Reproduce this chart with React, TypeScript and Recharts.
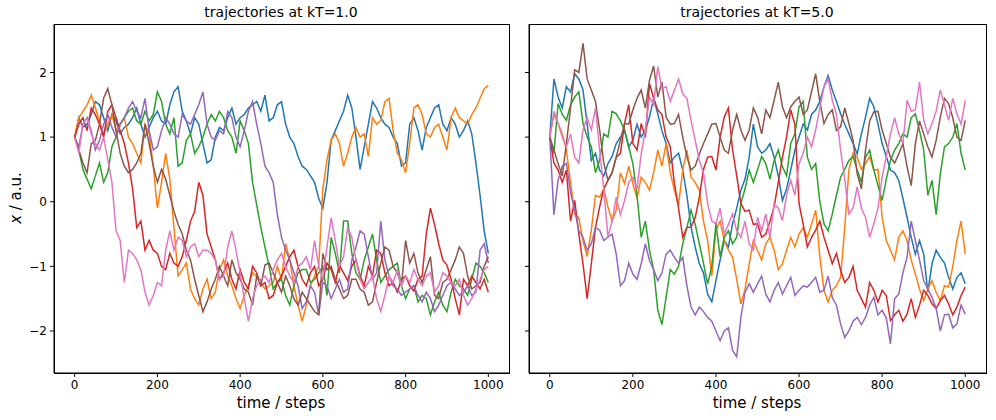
import { Line, LineChart, XAxis, YAxis } from "recharts";

// positions read every 10 steps, steps 0..1000

// trajectories at kT=1.0
const leftBlue = [1.0, 1.3, 1.15, 1.2, 1.35, 1.55, 1.5, 1.3, 1.1, 1.35, 1.25, 1.05, 1.15, 1.2, 1.3, 1.45, 1.2, 1.0, 1.15, 1.3, 1.4, 1.25, 1.2, 1.5, 1.7, 1.78, 1.4, 1.25, 1.05, 1.3, 1.2, 0.9, 0.6, 0.65, 1.0, 1.15, 1.1, 1.3, 1.45, 1.2, 1.3, 1.35, 1.45, 1.5, 1.55, 1.4, 1.65, 1.25, 1.3, 1.5, 1.55, 1.2, 1.0, 0.9, 0.7, 0.55, 0.5, 0.4, 0.3, 0.05, -0.1, 0.3, 0.95, 1.1, 1.25, 1.4, 1.65, 1.45, 1.0, 0.5, 0.85, 1.2, 1.55, 1.45, 1.3, 1.2, 1.15, 1.0, 0.9, 0.55, 0.6, 1.2, 1.3, 1.1, 0.8, 1.15, 1.3, 1.45, 1.5, 1.2, 1.1, 1.3, 1.2, 1.0, 1.1, 1.25, 1.05, 0.6, 0.1, -0.45, -0.8];
const leftOrange = [1.0, 1.3, 1.4, 1.5, 1.65, 1.45, 1.25, 1.05, 1.2, 1.35, 1.1, 1.2, 1.3, 1.0, 0.9, 0.75, 0.6, 1.2, 1.05, 0.55, -0.1, 0.3, 0.75, 0.35, -0.4, -1.15, -1.05, -0.95, -1.35, -1.5, -1.6, -1.35, -1.2, -1.5, -1.4, -1.05, -0.9, -1.15, -1.3, -1.5, -1.65, -1.45, -1.3, -1.1, -1.15, -1.25, -1.35, -1.3, -1.25, -1.0, -1.2, -0.65, -0.9, -1.3, -1.6, -1.85, -1.6, -1.3, -1.15, -1.0, 0.2, 0.65, 0.95, 1.05, 0.9, 0.55, 0.75, 1.0, 1.15, 1.0, 1.05, 0.7, 1.3, 1.2, 1.25, 1.55, 1.6, 1.1, 0.75, 0.65, 0.45, 0.9, 1.45, 1.5, 1.35, 1.05, 1.0, 1.15, 1.2, 1.0, 0.8, 1.3, 1.45, 1.3, 1.25, 1.2, 1.35, 1.45, 1.6, 1.75, 1.8];
const leftGreen = [1.0, 0.8, 0.5, 0.35, 0.2, 0.4, 0.6, 0.3, 0.45, 0.85, 1.0, 1.2, 1.3, 1.4, 1.45, 1.25, 1.2, 1.4, 1.25, 1.35, 1.7, 1.55, 1.2, 1.05, 1.3, 0.55, 0.6, 0.95, 1.05, 0.75, 0.85, 1.0, 1.2, 1.35, 1.25, 1.4, 1.3, 1.1, 1.0, 0.75, 1.25, 1.1, 0.9, 0.3, -0.05, -0.4, -0.7, -1.0, -1.35, -1.25, -1.2, -1.45, -1.6, -1.3, -1.1, -1.05, -1.05, -1.25, -1.2, -1.1, -1.0, -1.45, -0.55, -0.8, -1.1, -0.3, -0.3, -0.8, -1.1, -1.2, -0.9, -0.7, -0.5, -0.9, -1.25, -1.15, -1.05, -1.0, -0.95, -1.3, -1.5, -1.35, -1.3, -1.55, -1.45, -1.5, -1.75, -1.55, -1.4, -1.6, -1.7, -1.4, -1.2, -1.3, -1.35, -1.45, -1.2, -0.95, -1.0, -1.1, -1.25];
const leftRed = [1.0, 1.2, 1.3, 1.1, 1.45, 1.35, 1.2, 1.0, 1.4, 1.5, 1.3, 1.1, 0.9, 0.6, 0.2, -0.4, -0.3, -0.75, -0.6, -0.75, -0.8, -1.0, -1.05, -0.8, -0.95, -1.0, -0.85, -0.6, -0.3, -0.15, 0.3, 0.1, -0.5, -0.7, -0.9, -1.2, -1.1, -0.95, -1.2, -1.35, -1.05, -1.25, -1.35, -1.0, -1.1, -1.3, -1.25, -1.5, -1.45, -1.25, -1.15, -1.0, -0.85, -0.75, -1.0, -1.2, -1.3, -1.1, -1.0, -1.3, -1.2, -0.95, -1.05, -1.25, -0.98, -1.1, -1.22, -1.0, -0.9, -1.15, -1.3, -1.0, -1.15, -0.75, -0.8, -1.1, -1.3, -1.25, -1.4, -1.2, -1.15, -1.3, -1.38, -1.2, -1.15, -0.5, -0.1, -0.35, -0.65, -0.9, -0.98, -1.2, -1.5, -1.75, -1.2, -1.3, -1.15, -1.25, -1.35, -1.2, -1.4];
const leftPurple = [1.0, 0.85, 1.2, 1.3, 1.1, 0.8, 0.95, 1.2, 1.35, 1.15, 1.0, 1.2, 1.3, 1.45, 1.55, 1.4, 1.3, 1.6, 1.1, 0.8, 0.85, 1.1, 1.3, 1.2, 1.05, 1.0, 1.35, 1.25, 1.2, 1.35, 1.5, 1.7, 1.2, 1.0, 0.95, 1.1, 1.05, 1.4, 1.3, 1.0, 0.85, 1.1, 1.4, 1.55, 1.2, 0.9, 0.55, 0.45, 0.3, -0.2, -0.55, -0.75, -0.9, -1.1, -1.3, -1.65, -1.55, -1.3, -1.4, -1.75, -1.25, -1.3, -1.5, -1.35, -1.2, -1.4, -1.35, -0.9, -0.7, -0.45, -0.5, -0.85, -1.2, -1.1, -0.3, -0.9, -1.15, -1.3, -1.35, -1.45, -1.4, -1.35, -1.3, -1.45, -1.55, -1.4, -1.5, -1.7, -1.6, -1.45, -1.3, -1.25, -1.35, -1.45, -1.4, -1.3, -1.45, -1.4, -0.75, -0.65, -0.95];
const leftBrown = [1.0, 0.8, 0.6, 0.45, 0.9, 0.95, 1.2, 1.6, 1.75, 1.5, 1.1, 0.75, 0.55, 0.45, 0.5, 0.6, 0.75, 1.2, 0.9, 0.55, 0.3, 0.5, 0.35, 0.1, -0.15, -0.35, -0.5, -0.75, -0.9, -1.2, -1.45, -1.7, -1.55, -1.35, -1.2, -1.0, -1.15, -1.3, -0.9, -1.1, -1.2, -1.35, -1.4, -1.6, -1.15, -1.3, -0.98, -0.95, -1.1, -1.25, -1.4, -1.15, -1.3, -1.5, -1.6, -1.4, -1.5, -1.6, -1.7, -1.75, -0.8, -1.05, -1.0, -1.2, -1.35, -1.5, -1.45, -1.2, -1.2, -1.35, -1.4, -1.6, -1.55, -1.25, -0.95, -0.7, -0.75, -1.0, -1.1, -1.3, -0.6, -0.95, -0.8, -1.1, -1.25, -1.05, -0.85, -1.45, -1.5, -1.25, -1.2, -1.05, -0.9, -0.7, -0.8, -1.15, -1.35, -1.3, -1.25, -1.0, -0.85];
const leftPink = [1.0, 0.75, 1.2, 1.3, 1.05, 0.9, 0.8, 1.0, 0.65, 0.3, -0.45, -0.6, -1.25, -0.75, -0.8, -0.9, -1.05, -1.4, -1.6, -1.45, -1.25, -1.3, -0.75, -0.45, -0.75, -0.55, -0.6, -0.85, -0.7, -0.65, -0.85, -0.75, -0.75, -0.8, -0.9, -1.2, -1.15, -0.7, -0.45, -0.75, -1.1, -1.5, -1.85, -1.5, -1.3, -1.2, -1.15, -1.25, -1.05, -0.9, -0.8, -1.0, -1.15, -1.25, -1.0, -0.95, -0.85, -1.05, -0.6, -1.0, -1.2, -0.7, -0.25, -0.6, -1.0, -0.85, -0.4, -0.55, -0.9, -1.2, -1.35, -1.25, -1.15, -1.5, -1.7, -1.45, -1.15, -1.25, -1.05, -1.3, -1.15, -1.25, -1.05, -1.2, -1.3, -1.15, -1.1, -1.4, -1.3, -1.1, -1.15, -1.25, -1.3, -1.2, -1.45, -1.6, -1.5, -1.35, -1.2, -1.05, -1.0];

// trajectories at kT=5.0
const rightBlue = [1.0, 1.9, 1.62, 1.45, 1.78, 1.7, 1.98, 1.9, 1.73, 1.2, 0.64, 0.75, 0.49, 0.4, 0.59, 0.7, 0.9, 1.0, 1.1, 0.85, 0.95, 1.2, 1.0, 1.1, 1.31, 1.6, 1.36, 1.1, 0.9, 0.6, 0.69, 0.75, 0.49, 0.1, -0.39, -0.7, -0.96, -1.1, -1.43, -1.55, -1.22, -0.9, -0.6, -0.7, -0.34, -0.1, 0.18, 0.35, 0.69, 1.2, 0.85, 0.75, 0.8, 0.9, 0.69, 0.4, 0.02, 0.2, 0.49, 0.8, 1.0, 1.2, 1.11, 1.35, 1.42, 1.55, 1.78, 1.95, 1.73, 1.55, 1.36, 1.2, 1.05, 0.9, 0.74, 1.05, 1.31, 1.6, 1.47, 1.2, 0.9, 0.7, 0.49, 0.45, 0.33, 0.05, -0.24, -0.55, -0.81, -0.6, -0.81, -1.4, -0.96, -0.75, -0.86, -0.95, -1.17, -1.35, -1.17, -1.1, -1.27];
const rightOrange = [1.0, 1.35, 1.21, 1.05, 0.8, 0.3, -0.19, -0.25, -0.6, -0.85, -0.44, 0.1, 0.07, 0.2, -0.08, -0.3, -0.13, 0.45, 0.28, 0.55, 0.28, 0.05, 0.38, 0.3, 0.18, 0.45, 0.8, 0.55, 0.9, 0.45, 0.18, -0.05, 0.49, 0.8, 0.38, 0.3, 0.18, -0.3, -0.6, -1.15, -0.44, -0.3, -0.6, -0.75, -0.86, -1.2, -1.58, -1.35, -0.96, -0.6, -0.75, -0.9, -0.65, -0.55, -0.75, -1.05, -0.96, -0.75, -0.55, -0.7, -0.5, -0.4, -0.55, -0.35, -0.13, -0.85, -1.37, -1.55, -1.37, -1.3, -1.17, -0.4, 0.49, 0.75, 0.69, 0.5, 0.59, 0.7, 0.49, 0.5, -0.24, -0.6, -0.75, -0.9, -0.55, -0.45, -0.6, -0.9, -1.12, -1.35, -1.53, -1.35, -1.22, -1.4, -1.53, -1.3, -1.32, -1.0, -0.6, -0.3, -0.81];
const rightGreen = [1.0, 0.75, 1.52, 1.35, 1.26, 1.5, 1.62, 1.7, 1.21, 1.0, 0.85, 0.45, 0.64, 1.05, 1.0, 1.4, 1.36, 1.25, 1.11, 0.85, 0.59, 0.1, -0.55, -0.3, -0.75, -1.05, -1.68, -1.9, -1.48, -1.05, -1.12, -1.0, -0.65, -0.4, -0.13, -0.35, -0.65, -0.95, -1.27, -1.0, -0.34, -0.85, -0.55, -0.45, -0.65, -0.55, -0.03, 0.2, 0.49, 0.3, 0.49, 0.7, 0.59, 0.35, 0.64, 0.8, 0.54, 0.4, 0.9, 1.05, 1.47, 1.55, 0.69, 0.5, 0.59, 0.0, -0.34, -0.45, -0.19, 0.1, 0.38, 0.5, 0.64, 0.7, 0.49, 0.3, 0.69, 0.8, 0.49, 0.25, 0.02, 0.35, 0.64, 0.8, 0.9, 1.05, 1.0, 1.3, 1.36, 1.1, 0.8, 0.1, 0.33, -0.2, 0.43, 0.85, 0.9, 1.0, 1.21, 0.75, 0.49];
const rightRed = [1.0, 0.6, 0.49, 0.3, 0.49, -0.3, 0.02, -0.5, -0.96, -1.5, -0.96, -0.4, -0.08, 0.2, 0.33, 0.45, 0.69, 0.75, 1.21, 1.5, 0.9, 0.8, 1.21, 1.0, 1.83, 1.6, 1.42, 1.35, 1.0, 0.85, 0.28, -0.1, -0.55, -0.4, -0.39, -0.25, 0.07, 0.5, 0.69, 0.7, 0.49, 1.0, 1.31, 1.45, 0.8, 0.4, -0.03, -0.15, -0.13, -0.35, -0.34, -0.55, -0.5, -0.3, -0.08, 0.3, 0.69, 1.0, 1.42, 1.2, -0.03, -0.35, -0.7, -0.55, -0.44, -0.3, -0.55, -0.75, -0.96, -0.8, -1.06, -1.25, -1.17, -1.0, -1.37, -1.5, -1.63, -1.25, -1.37, -1.55, -1.37, -1.45, -1.84, -1.75, -1.68, -1.85, -1.74, -1.5, -1.79, -1.6, -1.37, -1.45, -1.58, -1.65, -1.53, -1.45, -1.58, -1.75, -1.63, -1.45, -1.32];
const rightPurple = [1.0, -0.2, 0.33, 0.55, 0.59, 0.15, -0.13, -0.45, -0.55, -0.75, -0.65, -0.4, -0.44, -0.6, -0.55, -0.5, -0.81, -1.3, -1.22, -0.95, -1.12, -1.2, -0.96, -0.65, -0.91, -1.05, -1.22, -1.1, -0.81, -0.75, -0.86, -0.95, -0.86, -1.3, -1.63, -1.75, -1.63, -1.7, -1.79, -1.85, -2.0, -2.15, -2.0, -1.95, -2.3, -2.4, -1.79, -1.4, -1.27, -1.4, -1.27, -1.15, -1.43, -1.55, -1.37, -1.25, -1.43, -1.3, -1.17, -1.45, -1.37, -1.3, -1.32, -1.25, -1.17, -1.4, -1.37, -1.15, -1.48, -1.6, -1.89, -2.1, -2.0, -1.85, -1.79, -1.9, -1.79, -1.6, -1.48, -1.75, -1.68, -1.8, -2.2, -1.5, -1.43, -1.1, -0.86, -0.3, -0.6, -0.9, -1.22, -1.35, -1.48, -1.65, -2.0, -1.75, -1.74, -1.95, -1.89, -1.6, -1.74];
const rightBrown = [1.0, 0.8, 0.59, 0.4, 0.9, 1.45, 2.04, 2.0, 2.45, 1.9, 1.73, 1.55, 1.11, 0.6, 0.33, 0.45, 0.69, 0.95, 1.21, 1.2, 1.42, 1.6, 1.73, 1.45, 1.88, 2.1, 1.62, 1.85, 1.31, 1.2, 1.21, 1.35, 1.0, 0.7, 0.49, 0.55, 0.74, 0.9, 1.05, 1.2, 1.21, 1.0, 0.8, 0.75, 1.11, 1.35, 1.11, 0.95, 1.11, 1.45, 1.31, 1.05, 1.42, 1.3, 1.57, 1.85, 1.47, 1.3, 1.47, 1.55, 1.62, 1.35, 1.42, 1.7, 1.98, 1.55, 1.21, 1.35, 1.42, 1.1, 1.16, 1.45, 1.21, 0.95, 0.43, 0.2, 0.8, 1.25, 1.39, 1.4, 1.11, 0.9, 0.69, 0.6, 0.74, 0.9, 0.54, 0.25, 0.9, 1.25, 1.05, 0.85, 0.69, 0.95, 1.31, 1.6, 1.52, 1.3, 1.0, 0.95, 1.26];
const rightPink = [1.0, 1.4, 1.21, 1.0, 0.85, 1.05, 0.69, 0.6, 1.11, 1.3, 1.11, 1.45, 0.8, 0.2, -0.55, -0.3, 0.07, -0.2, 0.02, 0.3, 0.38, 0.2, 0.74, 1.1, 1.62, 1.5, 2.09, 1.75, 1.78, 1.55, 1.73, 1.9, 1.67, 1.6, 1.26, 0.95, 0.64, 0.45, -0.03, -0.3, -0.34, -0.1, -0.5, -0.35, -0.19, -0.45, -0.55, -0.3, -0.65, -0.75, -0.24, -0.45, -0.19, -0.55, -0.03, -0.1, -0.29, 0.1, 0.33, 0.1, 0.59, 0.75, 1.0, 0.85, 1.11, 1.45, 1.78, 1.9, 1.57, 1.35, 0.8, 0.35, -0.19, -0.1, 0.23, -0.1, -0.24, -0.55, -0.34, -0.1, 0.38, 0.7, 1.05, 1.3, 1.05, 0.9, 1.57, 1.4, 1.42, 1.85, 1.26, 1.05, 1.21, 1.4, 1.73, 1.5, 1.26, 1.6, 1.36, 1.2, 1.57];

const xTicks = [0, 200, 400, 600, 800, 1000];
const yTicks = [-2, -1, 0, 1, 2];

const COLORS = ["#1f77b4", "#ff7f0e", "#2ca02c", "#d62728", "#9467bd", "#8c564b", "#e377c2"];
const SERIES = ["blue", "orange", "green", "red", "purple", "brown", "pink"];

function buildRows(lines: number[][]) {
  return lines[0].map((_, i) => {
    const row: Record<string, number> = { step: i * 10 };
    lines.forEach((line, k) => {
      row[SERIES[k]] = line[i];
    });
    return row;
  });
}

const leftData = buildRows([leftBlue, leftOrange, leftGreen, leftRed, leftPurple, leftBrown, leftPink]);
const rightData = buildRows([rightBlue, rightOrange, rightGreen, rightRed, rightPurple, rightBrown, rightPink]);

const FONT = "'DejaVu Sans', sans-serif";
const tickStyle = { fontSize: 12, fill: "#000", fontFamily: FONT };
const axisStroke = { stroke: "#000", strokeWidth: 1 };
const minus = (v: number) => String(v).replace("-", "\u2212");

type PanelProps = {
  data: Record<string, number>[];
  width: number;
  yAxisWidth: number;
  rightMargin: number;
  showYLabels: boolean;
};

function Panel({ data, width, yAxisWidth, rightMargin, showYLabels }: PanelProps) {
  return (
    <LineChart width={width} height={420} data={data} margin={{ top: 24, right: rightMargin, bottom: 0, left: 0 }}>
      <XAxis
        dataKey="step"
        type="number"
        domain={[-50, 1050]}
        ticks={xTicks}
        height={47}
        tick={tickStyle}
        tickSize={4}
        tickMargin={3}
        axisLine={axisStroke}
        tickLine={axisStroke}
        allowDataOverflow
      />
      <YAxis
        type="number"
        domain={[-2.65, 2.75]}
        ticks={yTicks}
        width={yAxisWidth}
        tick={tickStyle}
        tickSize={4}
        tickMargin={3}
        tickFormatter={showYLabels ? minus : () => ""}
        axisLine={axisStroke}
        tickLine={axisStroke}
        allowDataOverflow
      />
      {SERIES.map((key, k) => (
        <Line
          key={key}
          dataKey={key}
          stroke={COLORS[k]}
          strokeWidth={1.5}
          dot={false}
          type="linear"
          isAnimationActive={false}
        />
      ))}
    </LineChart>
  );
}

const labelStyle: React.CSSProperties = {
  position: "absolute",
  fontFamily: FONT,
  color: "#000",
  whiteSpace: "nowrap",
  transform: "translateX(-50%)",
};

const frameStyle: React.CSSProperties = {
  position: "absolute",
  top: 24,
  height: 350,
  border: "1px solid #000",
  boxSizing: "border-box",
  pointerEvents: "none",
};

export default function App() {
  return (
    <div style={{ position: "fixed", left: 0, top: 0, width: 996, height: 420, background: "#fff", overflow: "hidden" }}>
      <div style={{ position: "absolute", left: 0, top: 0 }}>
        <Panel data={leftData} width={520} yAxisWidth={54} rightMargin={11} showYLabels />
      </div>
      <div style={{ position: "absolute", left: 520, top: 0 }}>
        <Panel data={rightData} width={476} yAxisWidth={9} rightMargin={10} showYLabels={false} />
      </div>
      <div style={{ ...frameStyle, left: 54, width: 456 }} />
      <div style={{ ...frameStyle, left: 529, width: 458 }} />
      <div style={{ ...labelStyle, left: 281, top: 4, fontSize: 14 }}>trajectories at kT=1.0</div>
      <div style={{ ...labelStyle, left: 757, top: 4, fontSize: 14 }}>trajectories at kT=5.0</div>
      <div style={{ ...labelStyle, left: 281, top: 394, fontSize: 15 }}>time / steps</div>
      <div style={{ ...labelStyle, left: 757, top: 394, fontSize: 15 }}>time / steps</div>
      <div
        style={{
          position: "absolute",
          left: 16,
          top: 198,
          fontFamily: FONT,
          fontSize: 15,
          whiteSpace: "nowrap",
          transform: "translate(-50%, -50%) rotate(-90deg)",
        }}
      >
        <i>x</i> / a.u.
      </div>
    </div>
  );
}
